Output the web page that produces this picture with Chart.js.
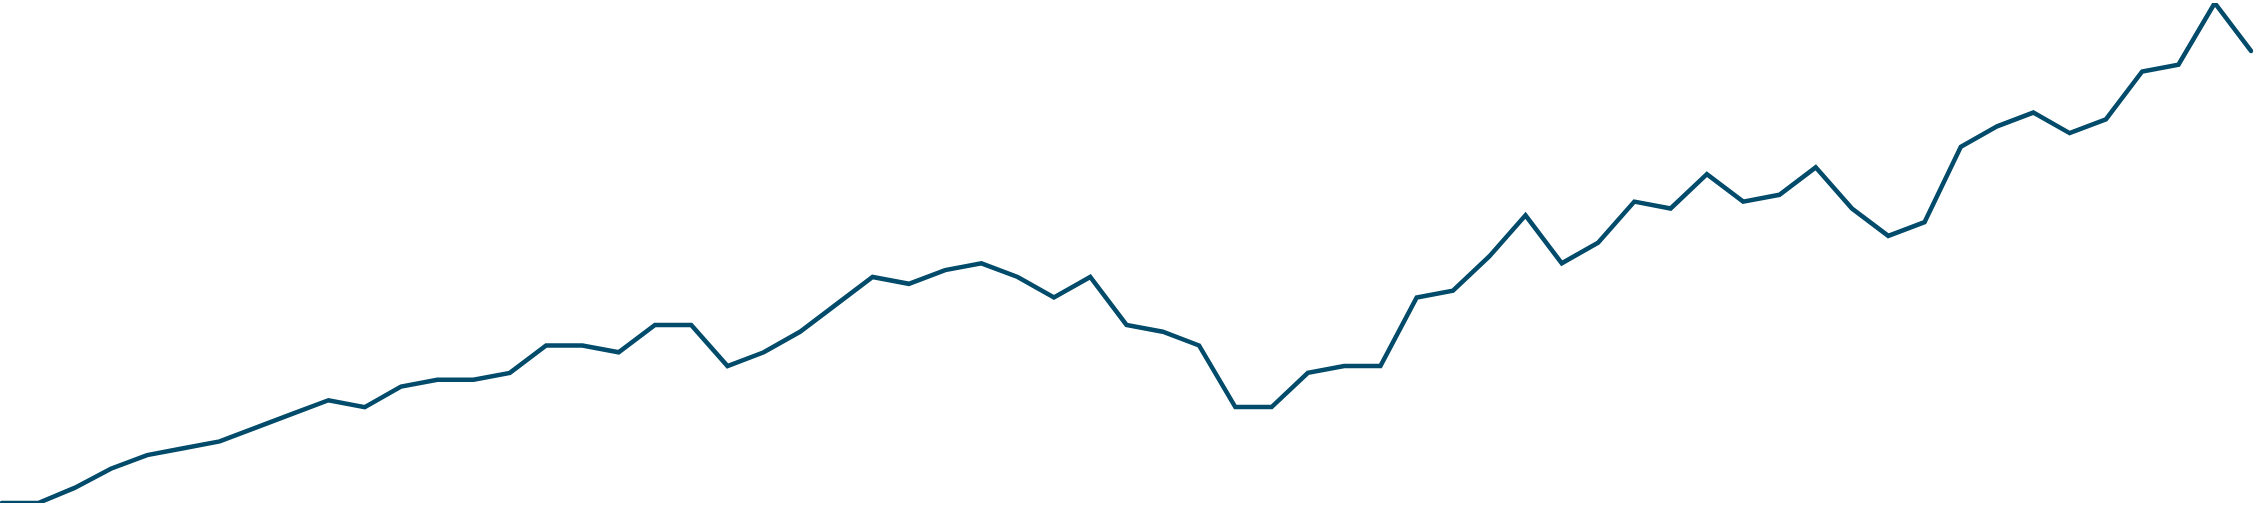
<!DOCTYPE html>
<html lang="en">
<head>
  <meta charset="UTF-8">
  <title>Trend</title>
  <script src="https://cdn.jsdelivr.net/npm/chart.js"></script>
  <style>
    html, body { margin: 0; padding: 0; background: #fff; }
    #wrap { width: 2255px; height: 507px; }
  </style>
</head>
<body>
  <div id="wrap"><canvas id="trendChart"></canvas></div>

  <script>
    // one label per point, axes are hidden in the picture
    const labels = Array.from({ length: 63 }, (_, i) => String(i + 1));

    const values = [
      0, 0, 2.2, 5, 7, 8, 9, 11, 13, 15,
      14, 17, 18, 18, 19, 23, 23, 22, 26, 26,
      20, 22, 25, 29, 33, 32, 34, 35, 33, 30,
      33, 26, 25, 23, 14, 14, 19, 20, 20, 30,
      31, 36, 42, 35, 38, 44, 43, 48, 44, 45,
      49, 43, 39, 41, 52, 55, 57, 54, 56, 63,
      64, 73, 66
    ];

    const yMin = 0;
    const yMax = 73;

    const ctx = document.getElementById('trendChart').getContext('2d');
    new Chart(ctx, {
      type: 'line',
      data: {
        labels: labels,
        datasets: [{
          data: values,
          borderColor: '#034b6b',
          borderWidth: 4.5,
          borderCapStyle: 'round',
          borderJoinStyle: 'miter',
          pointRadius: 0,
          fill: false,
          tension: 0
        }]
      },
      options: {
        responsive: true,
        maintainAspectRatio: false,
        animation: false,
        layout: { padding: { left: 2, right: 4, top: 3, bottom: 4 } },
        plugins: {
          legend: { display: false },
          tooltip: { enabled: false }
        },
        scales: {
          x: { display: false, offset: false },
          y: { display: false, min: yMin, max: yMax }
        }
      }
    });
  </script>
</body>
</html>
